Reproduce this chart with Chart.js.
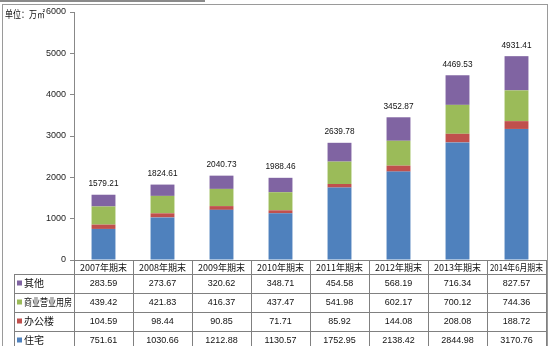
<!DOCTYPE html>
<html>
<head>
<meta charset="utf-8">
<script src="https://cdn.jsdelivr.net/npm/chart.js@4/dist/chart.umd.min.js"></script>
<style>
html,body{margin:0;padding:0;background:#fff;}
#wrap{width:550px;height:346px;position:relative;}
</style>
</head>
<body>
<div id="wrap"><canvas id="c" width="550" height="346"></canvas></div>
<script>
const categories = ['2007年期末','2008年期末','2009年期末','2010年期末','2011年期末','2012年期末','2013年期末','2014年6月期末'];
const zhuzhai = [751.61, 1030.66, 1212.88, 1130.57, 1752.95, 2138.42, 2844.98, 3170.76];
const bangonglou = [104.59, 98.44, 90.85, 71.71, 85.92, 144.08, 208.08, 188.72];
const shangye = [439.42, 421.83, 416.37, 437.47, 541.98, 602.17, 700.12, 744.36];
const qita = [283.59, 273.67, 320.62, 348.71, 454.58, 568.19, 716.34, 827.57];
const totalLabels = ['1579.21','1824.61','2040.73','1988.46','2639.78','3452.87','4469.53','4931.41'];
const yTicks = [0, 1000, 2000, 3000, 4000, 5000, 6000];
const unitText = '单位：万㎡';

const COLORS = { zhuzhai:'#4F81BD', bangonglou:'#C0504D', shangye:'#9BBB59', qita:'#8064A2' };

const tableRows = [
  { name:'其他', data: qita, color: COLORS.qita },
  { name:'商业营业用房', data: shangye, color: COLORS.shangye },
  { name:'办公楼', data: bangonglou, color: COLORS.bangonglou },
  { name:'住宅', data: zhuzhai, color: COLORS.zhuzhai }
];

const NUMFONT = '9px "Liberation Sans", Arial, sans-serif';
const CJKFONT = '9px "Noto Sans CJK SC", sans-serif';

const overlay = {
  id: 'overlay',
  afterDraw(chart) {
    const ctx = chart.ctx;
    const ca = chart.chartArea;
    const xs = chart.scales.x;
    const ys = chart.scales.y;
    const n = categories.length;
    const colW = (ca.right - ca.left) / n;
    ctx.save();

    // outer frame
    ctx.strokeStyle = '#9a9a9a';
    ctx.lineWidth = 1;
    ctx.strokeRect(2.5, 4.5, 545, 360);
    ctx.strokeStyle = '#8a8a8a';
    ctx.lineWidth = 2;
    ctx.beginPath(); ctx.moveTo(0, 1); ctx.lineTo(205, 1); ctx.stroke();

    // unit text
    ctx.fillStyle = '#111';
    ctx.font = '10px "Noto Sans CJK SC", serif';
    ctx.textAlign = 'left';
    ctx.textBaseline = 'middle';
    ctx.fillText(unitText, 5, 14, 40);

    // total labels
    ctx.font = NUMFONT;
    ctx.textAlign = 'center';
    ctx.textBaseline = 'middle';
    ctx.fillStyle = '#111';
    for (let i = 0; i < n; i++) {
      const sum = zhuzhai[i] + bangonglou[i] + shangye[i] + qita[i];
      const x = xs.getPixelForValue(i);
      const y = ys.getPixelForValue(sum) - 11;
      ctx.fillText(totalLabels[i], x, y, 30);
    }

    // table
    const yTop = ys.getPixelForValue(0);
    const headB = yTop + 14;
    const rowH = 19;
    const leftX = 14;
    const bottom = 346;
    ctx.strokeStyle = '#808080';
    ctx.lineWidth = 1;
    ctx.beginPath();
    ctx.moveTo(ca.left, Math.round(yTop) + 0.5); ctx.lineTo(ca.right, Math.round(yTop) + 0.5);
    for (let r = 0; r <= tableRows.length; r++) {
      const y = Math.round(headB + r * rowH) + 0.5;
      if (y > bottom) break;
      ctx.moveTo(leftX, y); ctx.lineTo(ca.right, y);
    }
    ctx.moveTo(leftX + 0.5, headB); ctx.lineTo(leftX + 0.5, bottom);
    for (let i = 0; i <= n; i++) {
      const x = Math.round(ca.left + i * colW) + 0.5;
      ctx.moveTo(x, yTop); ctx.lineTo(x, bottom);
    }
    ctx.stroke();

    // header labels
    ctx.fillStyle = '#111';
    ctx.font = CJKFONT;
    ctx.textAlign = 'center';
    for (let i = 0; i < n; i++) {
      ctx.fillText(categories[i], ca.left + (i + 0.5) * colW, (yTop + headB) / 2 + 0.5, colW - 6);
    }
    // rows
    tableRows.forEach((row, r) => {
      const cy = headB + (r + 0.5) * rowH;
      ctx.fillStyle = row.color;
      ctx.fillRect(leftX + 3, cy - 3, 5, 5);
      ctx.fillStyle = '#111';
      ctx.font = '10px "Noto Sans CJK SC", sans-serif';
      ctx.textAlign = 'left';
      ctx.fillText(row.name, leftX + 10, cy, ca.left - leftX - 12);
      ctx.font = NUMFONT;
      ctx.textAlign = 'center';
      for (let i = 0; i < n; i++) {
        ctx.fillText(row.data[i].toFixed(2), ca.left + (i + 0.5) * colW, cy + 0.5);
      }
    });
    ctx.restore();
  }
};

new Chart(document.getElementById('c'), {
  type: 'bar',
  data: {
    labels: categories,
    datasets: [
      { label: '住宅', data: zhuzhai, backgroundColor: COLORS.zhuzhai },
      { label: '办公楼', data: bangonglou, backgroundColor: COLORS.bangonglou },
      { label: '商业营业用房', data: shangye, backgroundColor: COLORS.shangye },
      { label: '其他', data: qita, backgroundColor: COLORS.qita }
    ]
  },
  options: {
    responsive: false,
    animation: false,
    devicePixelRatio: 1,
    layout: { padding: { top: 12, right: 4, bottom: 86, left: 0 } },
    datasets: { bar: { barPercentage: 0.405, categoryPercentage: 1.0, borderWidth: 0 } },
    plugins: { legend: { display: false }, tooltip: { enabled: false } },
    scales: {
      x: { stacked: true, display: false },
      y: {
        stacked: true,
        min: 0, max: 6000,
        afterBuildTicks(scale) { scale.ticks = yTicks.map(v => ({ value: v })); },
        afterFit(scale) { scale.width = 74; },
        ticks: { color: '#222', font: { family: '"Liberation Sans", Arial, sans-serif', size: 9 }, padding: 4,
                 callback: (v) => String(v) },
        grid: { drawOnChartArea: false, drawTicks: true, tickLength: 4, color: '#888' },
        border: { display: true, color: '#888' }
      }
    }
  },
  plugins: [overlay]
});
</script>
</body>
</html>
